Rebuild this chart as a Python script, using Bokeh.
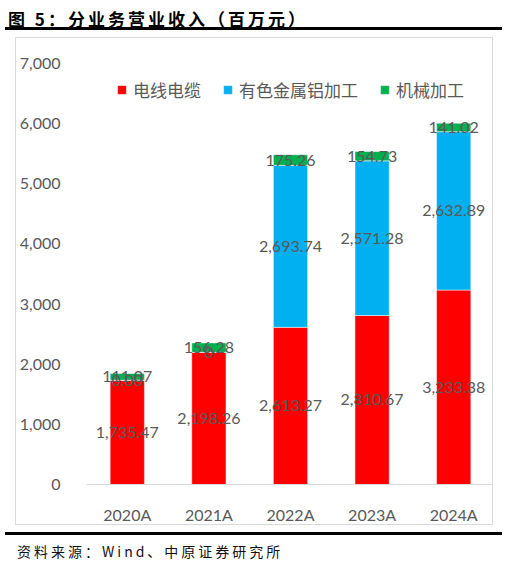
from bokeh.embed import file_html
from bokeh.resources import INLINE
from bokeh.plotting import figure
from bokeh.models import ColumnDataSource, Range1d, FixedTicker, NumeralTickFormatter, Div
from bokeh.layouts import column
from bokeh.core.properties import value

years = ["2020A", "2021A", "2022A", "2023A", "2024A"]
cable = [1735.47, 2198.26, 2613.27, 2810.67, 3233.38]
aluminium = [0.00, 0.00, 2693.74, 2571.28, 2632.89]
machining = [111.07, 156.28, 175.26, 154.73, 141.02]
aluminium_labels = ["0.00", "0", "2,693.74", "2,571.28", "2,632.89"]
y_ticks = [0, 1000, 2000, 3000, 4000, 5000, 6000, 7000]

names = ["电线电缆", "有色金属铝加工", "机械加工"]
colors = ["#FF0000", "#00B0F0", "#00B050"]
keys = ["cable", "aluminium", "machining"]
GREY = "#595959"

src = ColumnDataSource(dict(years=years, cable=cable, aluminium=aluminium, machining=machining))

# label positions: middle of each stacked segment
lx, ly, lt = [], [], []
for i, y in enumerate(years):
    base = 0.0
    for series, labels in ((cable, None), (aluminium, aluminium_labels), (machining, None)):
        v = series[i]
        lx.append(y)
        ly.append(base + v / 2)
        lt.append(labels[i] if labels else f"{v:,.2f}")
        base += v
lab = ColumnDataSource(dict(x=lx, y=ly, t=lt))

p = figure(x_range=years, y_range=Range1d(0, 7000), width=478, height=488,
           output_backend="svg", toolbar_location=None,
           min_border_left=65, min_border_right=0, min_border_top=25, min_border_bottom=41)
p.margin = (0, 0, 0, 7)
p.styles = {"border": "1px solid #d9d9d9", "box-sizing": "border-box"}
p.outline_line_color = None
p.xgrid.grid_line_color = None
p.ygrid.grid_line_color = None

p.vbar_stack(keys, x="years", width=0.42, source=src, color=colors,
             line_color="white", line_width=0.5, legend_label=names)

p.text(x="x", y="y", text="t", source=lab, text_align="center", text_baseline="middle",
       text_color=GREY, text_font=value("Lato"), text_font_size="16px")

p.yaxis.ticker = FixedTicker(ticks=y_ticks)
p.yaxis.formatter = NumeralTickFormatter(format="0,0")
p.yaxis.axis_line_color = None
p.yaxis.major_tick_line_color = None
p.yaxis.minor_tick_line_color = None
p.yaxis.major_label_standoff = 20
p.xaxis.axis_line_color = "#d9d9d9"
p.xaxis.major_tick_line_color = None
p.xaxis.major_label_standoff = 14
for ax in (p.xaxis, p.yaxis):
    ax.major_label_text_color = GREY
    ax.major_label_text_font = "Lato"
    ax.major_label_text_font_size = "16px"

lg = p.legend[0]
lg.orientation = "horizontal"
lg.location = (30, 382)
lg.label_text_font = "Noto Sans CJK SC"
lg.label_text_font_size = "17px"
lg.label_text_color = GREY
lg.glyph_width = 11
lg.glyph_height = 11
lg.label_standoff = 6
lg.spacing = 21
lg.padding = 0
lg.margin = 0
lg.border_line_color = None
lg.background_fill_alpha = 0

title = Div(text='<div style="font:bold 17px \'Noto Sans CJK SC\';letter-spacing:3px;'
                 'border-bottom:3px solid black;width:497px;margin-left:-3px;padding-left:3px;'
                 'line-height:22px;height:22px;white-space:nowrap">图 5：分业务营业收入（百万元）</div>',
            width=494, height=29, margin=0)
source = Div(text='<div style="font:14px \'Noto Sans CJK SC\';letter-spacing:3px;color:#111;'
                  'border-top:3px solid black;width:497px;margin-left:-3px;margin-top:7px;'
                  'padding-left:12px;padding-top:6px;white-space:nowrap">资料来源：Wind、中原证券研究所</div>',
             width=494, height=38, margin=0)

page = column(title, p, source, spacing=0)
page.margin = (8, 0, 0, 8)
open("out.html", "w").write(file_html(page, INLINE))
